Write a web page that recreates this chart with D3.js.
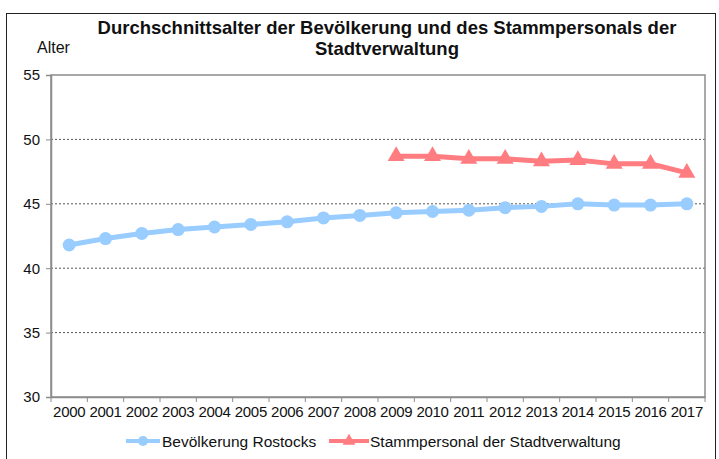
<!DOCTYPE html>
<html>
<head>
<meta charset="utf-8">
<script src="https://cdn.jsdelivr.net/npm/d3@7"></script>
<style>
  body { margin: 0; background: #fff; }
  svg { font-family: "Liberation Sans", Arial, sans-serif; }
</style>
</head>
<body>
<script>
// data
var years = ["2000","2001","2002","2003","2004","2005","2006","2007","2008",
             "2009","2010","2011","2012","2013","2014","2015","2016","2017"];
var bevoelkerung = [41.8, 42.3, 42.7, 43.0, 43.2, 43.4, 43.6, 43.9, 44.1,
                    44.3, 44.4, 44.5, 44.7, 44.8, 45.0, 44.9, 44.9, 45.0];
var stammYears = ["2009","2010","2011","2012","2013","2014","2015","2016","2017"];
var stammpersonal = [48.7, 48.7, 48.5, 48.5, 48.3, 48.4, 48.1, 48.1, 47.4];
var yTicks = [30, 35, 40, 45, 50, 55];

var width = 719, height = 459;
var blue = "#99ccff", red = "#ff7c80";

var svg = d3.select("body").append("svg")
  .attr("width", width)
  .attr("height", height);

// outer frame
svg.append("rect")
  .attr("x", 6.5).attr("y", 13.5)
  .attr("width", 709).attr("height", 460)
  .attr("fill", "none").attr("stroke", "#222").attr("stroke-width", 1);

var mLeft = 51, mRight = 705, mTop = 75, mBottom = 397;

var x = d3.scaleBand().domain(years).range([mLeft, mRight]);
var y = d3.scaleLinear().domain([30, 55]).range([mBottom, mTop]);

/* title */
var title = svg.append("text")
  .attr("text-anchor", "middle")
  .attr("font-weight", "bold")
  .attr("font-size", 18.5)
  .attr("fill", "#111");
title.append("tspan").attr("x", 387).attr("y", 34)
  .text("Durchschnittsalter der Bevölkerung und des Stammpersonals der");
title.append("tspan").attr("x", 387).attr("y", 55)
  .text("Stadtverwaltung");

svg.append("text")
  .attr("x", 37).attr("y", 53)
  .attr("font-size", 16).attr("fill", "#111")
  .text("Alter");

/* gridlines */
svg.append("g").selectAll("line")
  .data(yTicks.filter(function(d) { return d > 30 && d < 55; }))
  .enter().append("line")
    .attr("x1", mLeft).attr("x2", mRight)
    .attr("y1", function(d) { return y(d); })
    .attr("y2", function(d) { return y(d); })
    .attr("stroke", "#555")
    .attr("stroke-width", 1)
    .attr("stroke-dasharray", "2,2");

/* plot border */
svg.append("rect")
  .attr("x", mLeft).attr("y", mTop)
  .attr("width", mRight - mLeft).attr("height", mBottom - mTop)
  .attr("fill", "none").attr("stroke", "#8c8c8c").attr("stroke-width", 1.5);

/* y axis */
var yAxis = svg.append("g")
  .attr("transform", "translate(" + mLeft + ",0)")
  .call(d3.axisLeft(y).tickValues(yTicks).tickSize(5).tickPadding(6));
yAxis.select(".domain").attr("stroke", "#8c8c8c").attr("stroke-width", 1.5);
yAxis.selectAll(".tick line").attr("stroke", "#8c8c8c");
yAxis.selectAll("text").attr("font-size", 15).attr("fill", "#111")
  .attr("font-family", "Liberation Sans, Arial, sans-serif");

/* x axis, ticks at the category boundaries */
var xAxis = svg.append("g")
  .attr("transform", "translate(0," + mBottom + ")")
  .call(d3.axisBottom(x).tickSize(0).tickPadding(9));
xAxis.select(".domain").attr("stroke", "#8c8c8c").attr("stroke-width", 1.5);
xAxis.selectAll("text").attr("font-size", 15).attr("fill", "#111")
  .attr("letter-spacing", -0.3)
  .attr("font-family", "Liberation Sans, Arial, sans-serif");
xAxis.selectAll(".bound")
  .data(years.concat(["end"]))
  .enter().append("line")
    .attr("class", "bound")
    .attr("x1", function(d, i) { return mLeft + i * x.step(); })
    .attr("x2", function(d, i) { return mLeft + i * x.step(); })
    .attr("y1", 0).attr("y2", 5)
    .attr("stroke", "#8c8c8c");

var cx = function(yr) { return x(yr) + x.bandwidth() / 2; };

var blueData = years.map(function(yr, i) { return { year: yr, v: bevoelkerung[i] }; });
var redData = stammYears.map(function(yr, i) { return { year: yr, v: stammpersonal[i] }; });

var line = d3.line()
  .x(function(d) { return cx(d.year); })
  .y(function(d) { return y(d.v); });

/* Bevölkerung line */
svg.append("path")
  .datum(blueData)
  .attr("d", line)
  .attr("fill", "none").attr("stroke", blue).attr("stroke-width", 5);

svg.append("g").selectAll("circle")
  .data(blueData)
  .enter().append("circle")
    .attr("cx", function(d) { return cx(d.year); })
    .attr("cy", function(d) { return y(d.v); })
    .attr("r", 6.5)
    .attr("fill", blue);

/* Stammpersonal line */
svg.append("path")
  .datum(redData)
  .attr("d", line)
  .attr("fill", "none").attr("stroke", red).attr("stroke-width", 5);

var tri = d3.symbol().type(d3.symbolTriangle).size(125);
svg.append("g").selectAll("path")
  .data(redData)
  .enter().append("path")
    .attr("d", tri)
    .attr("transform", function(d) { return "translate(" + cx(d.year) + "," + y(d.v) + ")"; })
    .attr("fill", red);

/* legend */
var legend = svg.append("g").attr("transform", "translate(0,441)");

legend.append("line")
  .attr("x1", 126).attr("x2", 160).attr("y1", 0).attr("y2", 0)
  .attr("stroke", blue).attr("stroke-width", 4);
legend.append("circle").attr("cx", 143).attr("cy", 0).attr("r", 5).attr("fill", blue);
legend.append("text").attr("x", 162).attr("y", 5.5)
  .attr("font-size", 15.5).attr("fill", "#111")
  .text("Bevölkerung Rostocks");

legend.append("line")
  .attr("x1", 329).attr("x2", 369).attr("y1", 0).attr("y2", 0)
  .attr("stroke", red).attr("stroke-width", 4);
legend.append("path").attr("d", d3.symbol().type(d3.symbolTriangle).size(70))
  .attr("transform", "translate(349,0)").attr("fill", red);
legend.append("text").attr("x", 370).attr("y", 5.5)
  .attr("font-size", 15.5).attr("fill", "#111")
  .text("Stammpersonal der Stadtverwaltung");
</script>
</body>
</html>
